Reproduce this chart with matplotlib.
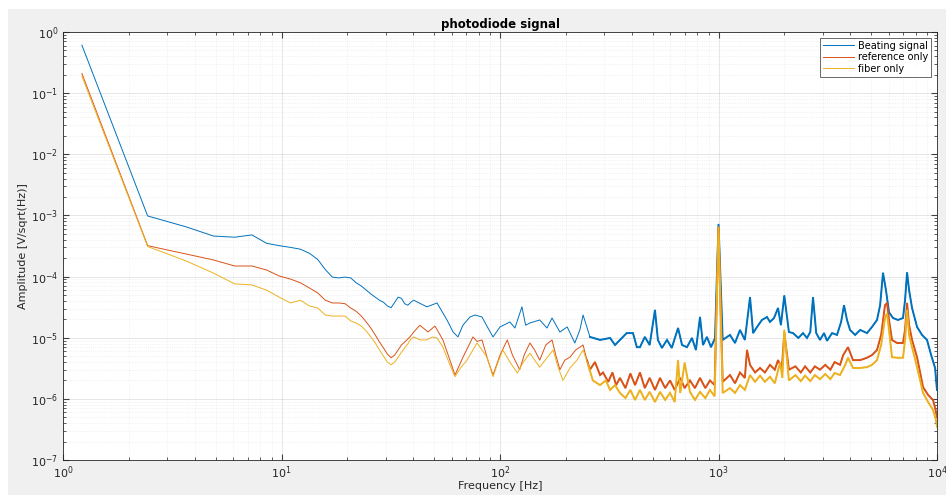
import matplotlib.pyplot as plt
from matplotlib.patches import Rectangle
import numpy as np

# photodiode amplitude spectra, three measurements
beat_freq = [1.22, 2.44, 3.66, 4.88, 6.10, 7.32, 8.54, 9.77, 10.99, 12.21, 13.43, 14.65,
             15.87, 17.09, 18.31, 19.53, 20.75, 21.97, 23.19, 24.41, 25.63, 26.86, 28.08,
             29.3, 30.52, 31.74, 32.96, 34.18, 35.4, 36.62, 37.84, 39.06, 40.28,
             46.3, 51.5, 57.2, 61.0, 64.2, 67.7, 72.9, 76.8, 82.7, 88.1, 92.9, 100,
             111, 117, 126, 131, 137, 152, 164, 173, 188, 203, 220, 232, 240, 258, 287,
             319, 336, 354, 380, 406, 423, 437, 460, 484, 512, 528, 551, 581, 611, 653,
             681, 717, 756, 788, 823, 849, 885, 924, 964, 1000, 1045, 1129, 1190, 1254,
             1320, 1394, 1440, 1501, 1580, 1667, 1720, 1795, 1872, 1930, 2000, 2100,
             2193, 2320, 2436, 2541, 2630, 2707, 2800, 2914, 3040, 3138, 3310, 3486,
             3640, 3753, 3873, 3999, 4220, 4450, 4782, 5040, 5314, 5490, 5660, 5840,
             6030, 6290, 6630, 6988, 7140, 7293, 7450, 7687, 8103, 8540, 9000, 9400,
             9800, 9950, 10000]
beat_amp = [0.61, 9.8e-4, 6.5e-4, 4.6e-4, 4.4e-4, 4.8e-4, 3.5e-4, 3.2e-4, 3.0e-4, 2.8e-4,
            2.4e-4, 1.9e-4, 1.3e-4, 9.8e-5, 9.5e-5, 9.8e-5, 9.5e-5, 7.9e-5, 7.0e-5, 6.0e-5,
            5.2e-5, 4.6e-5, 4.1e-5, 3.8e-5, 3.3e-5, 3.1e-5, 3.8e-5, 4.6e-5, 4.4e-5, 3.6e-5,
            3.4e-5, 3.8e-5, 4.1e-5,
            3.2e-5, 3.7e-5, 1.95e-5, 1.24e-5, 1.03e-5, 1.61e-5, 2.18e-5, 2.35e-5, 2.18e-5,
            1.44e-5, 1.03e-5, 1.5e-5, 1.81e-5, 1.44e-5, 3.2e-5, 1.6e-5, 1.74e-5, 1.95e-5,
            1.44e-5, 2.1e-5, 1.24e-5, 1.5e-5, 8.2e-6, 1.34e-5, 2.35e-5, 1.03e-5, 9.2e-6,
            9.9e-6, 7.6e-6, 9.2e-6, 1.19e-5, 1.19e-5, 7.0e-6, 7.0e-6, 1.03e-5, 7.6e-6,
            2.84e-5, 9.2e-6, 6.8e-6, 9.2e-6, 6.8e-6, 1.44e-5, 7.6e-6, 7.0e-6, 9.9e-6,
            6.3e-6, 2.18e-5, 7.6e-6, 1.03e-5, 7.0e-6, 9.9e-6, 7.2e-4, 9.2e-6, 1.11e-5,
            8.2e-6, 1.34e-5, 9.2e-6, 4.6e-5, 1.19e-5, 1.5e-5, 1.95e-5, 2.18e-5, 1.81e-5,
            2.1e-5, 3.06e-5, 1.61e-5, 4.9e-5, 1.24e-5, 1.19e-5, 9.9e-6, 1.19e-5, 9.9e-6,
            1.24e-5, 4.6e-5, 1.19e-5, 9.2e-6, 1.19e-5, 8.9e-6, 1.19e-5, 1.11e-5, 1.81e-5,
            3.4e-5, 1.95e-5, 1.34e-5, 1.11e-5, 1.34e-5, 1.19e-5, 1.5e-5, 1.95e-5, 3.4e-5,
            1.15e-4, 6.0e-5, 2.6e-5, 2.1e-5, 1.95e-5, 2.1e-5, 4.1e-5, 1.17e-4, 6.0e-5,
            3.06e-5, 1.5e-5, 1.11e-5, 9.2e-6, 5.2e-6, 3.2e-6, 1.68e-6, 1.4e-6]

ref_freq = [1.22, 2.44, 3.66, 4.88, 6.10, 7.32, 8.54, 9.77, 10.99, 12.21, 13.43, 14.65,
            15.87, 17.09, 18.31, 19.53, 20.75, 21.97, 23.19, 24.41, 25.63, 26.86, 28.08,
            29.3, 30.52, 31.74, 32.96, 34.18, 35.4, 36.62, 37.84, 39.06, 40.28,
            43.0, 46.8, 50.4, 54.8, 59, 62.2, 67.7, 75.2, 78.5, 82.7, 88, 92.9, 100, 108,
            114, 123, 129, 137, 144, 152, 162, 173, 180, 188, 198, 209, 222, 240, 250,
            258, 272, 287, 296, 313, 327, 340, 354, 375, 395, 415, 437, 460, 484, 512,
            540, 570, 600, 630, 668, 700, 740, 780, 823, 870, 914, 960, 1000, 1045,
            1129, 1190, 1254, 1320, 1350, 1394, 1470, 1549, 1630, 1720, 1810, 1872,
            1950, 2000, 2100, 2250, 2380, 2490, 2630, 2760, 2914, 3080, 3250, 3400,
            3600, 3720, 3914, 4127, 4450, 4782, 5040, 5314, 5550, 5780, 5906, 6030,
            6223, 6560, 6988, 7140, 7293, 7450, 7687, 8103, 8632, 9100, 9587, 9850,
            10000]
ref_amp = [0.21, 3.2e-4, 2.34e-4, 1.87e-4, 1.49e-4, 1.49e-4, 1.28e-4, 1.02e-4, 9.1e-5,
           7.9e-5, 6.5e-5, 5.4e-5, 4.1e-5, 3.7e-5, 3.7e-5, 3.6e-5, 3.06e-5, 2.7e-5,
           2.26e-5, 1.81e-5, 1.44e-5, 1.11e-5, 8.5e-6, 6.8e-6, 5.4e-6, 4.7e-6, 5.2e-6,
           6.3e-6, 7.6e-6, 8.5e-6, 9.5e-6, 1.07e-5, 1.24e-5,
           1.6e-5, 1.24e-5, 1.55e-5, 9.2e-6, 4.3e-6, 2.45e-6, 4.8e-6, 1.03e-5, 8.7e-6,
           9.2e-6, 4.3e-6, 2.45e-6, 5.2e-6, 9.2e-6, 5.2e-6, 3.0e-6, 5.2e-6, 8.2e-6,
           6.3e-6, 4.3e-6, 7.6e-6, 9.2e-6, 5.2e-6, 3.0e-6, 4.3e-6, 4.8e-6, 6.3e-6,
           7.6e-6, 4.3e-6, 3.0e-6, 4.0e-6, 2.45e-6, 2.7e-6, 1.9e-6, 2.7e-6, 1.68e-6,
           2.2e-6, 1.5e-6, 2.6e-6, 1.68e-6, 2.7e-6, 1.5e-6, 2.2e-6, 1.4e-6, 2.2e-6,
           1.5e-6, 2.0e-6, 1.4e-6, 2.2e-6, 1.5e-6, 2.0e-6, 1.5e-6, 2.2e-6, 1.5e-6,
           2.0e-6, 1.68e-6, 6.5e-4, 1.9e-6, 2.45e-6, 1.8e-6, 2.7e-6, 2.2e-6, 6.3e-6,
           3.6e-6, 2.7e-6, 3.2e-6, 2.7e-6, 3.6e-6, 3.0e-6, 4.3e-6, 3.2e-6, 1.2e-5,
           3.0e-6, 3.4e-6, 2.7e-6, 3.4e-6, 2.7e-6, 3.4e-6, 3.0e-6, 3.6e-6, 3.0e-6,
           4.0e-6, 3.6e-6, 5.2e-6, 7.0e-6, 4.3e-6, 4.3e-6, 4.7e-6, 5.2e-6, 6.3e-6,
           1.11e-5, 3.4e-5, 3.7e-5, 1.95e-5, 9.2e-6, 8.2e-6, 8.2e-6, 1.34e-5, 3.7e-5,
           1.61e-5, 9.2e-6, 4.8e-6, 1.56e-6, 1.16e-6, 9.6e-7, 6.6e-7, 5.0e-7]

fiber_freq = [1.22, 2.44, 3.66, 4.88, 6.10, 7.32, 8.54, 9.77, 10.99, 12.21, 13.43, 14.65,
              15.87, 17.09, 18.31, 19.53, 20.75, 21.97, 23.19, 24.41, 25.63, 26.86, 28.08,
              29.3, 30.52, 31.74, 32.96, 34.18, 35.4, 36.62, 37.84, 39.06, 40.28,
              43.0, 46.3, 49, 51.5, 54.8, 59, 62.2, 66, 70.6, 78.5, 82.7, 87.2, 92.9, 98,
              103, 111, 120, 128, 137, 144, 152, 164, 175, 183, 194, 209, 225, 240, 253,
              266, 287, 305, 319, 336, 354, 375, 395, 415, 437, 460, 484, 512, 540, 570,
              600, 630, 653, 668, 700, 740, 780, 823, 870, 914, 960, 1000, 1045, 1129,
              1190, 1254, 1320, 1394, 1470, 1549, 1630, 1720, 1810, 1912, 1960, 2000,
              2100, 2250, 2380, 2490, 2630, 2760, 2914, 3080, 3250, 3400, 3600, 3800,
              3914, 4127, 4450, 4782, 5040, 5314, 5550, 5780, 5906, 6030, 6223, 6560,
              6988, 7140, 7293, 7450, 7687, 8103, 8632, 9100, 9587, 9850, 10000]
fiber_amp = [0.19, 3.1e-4, 1.8e-4, 1.14e-4, 7.6e-5, 7.3e-5, 6.0e-5, 4.6e-5, 3.7e-5,
             4.1e-5, 3.3e-5, 3.06e-5, 2.35e-5, 2.26e-5, 2.26e-5, 2.26e-5, 1.88e-5,
             1.74e-5, 1.55e-5, 1.29e-5, 1.03e-5, 8.2e-6, 6.3e-6, 5.0e-6, 4.0e-6, 3.6e-6,
             4.0e-6, 4.8e-6, 5.8e-6, 6.8e-6, 7.9e-6, 9.5e-6, 1.03e-5,
             9.2e-6, 9.2e-6, 1.03e-5, 9.9e-6, 7.0e-6, 3.6e-6, 2.3e-6, 3.2e-6, 4.3e-6,
             8.2e-6, 6.3e-6, 4.8e-6, 2.3e-6, 4.0e-6, 6.3e-6, 4.0e-6, 2.65e-6, 4.0e-6,
             5.6e-6, 4.3e-6, 3.3e-6, 4.7e-6, 6.3e-6, 3.6e-6, 2.0e-6, 3.2e-6, 4.3e-6,
             6.3e-6, 3.6e-6, 2.0e-6, 1.68e-6, 2.0e-6, 1.4e-6, 1.68e-6, 1.25e-6, 1.03e-6,
             1.4e-6, 9.6e-7, 1.4e-6, 9.6e-7, 1.3e-6, 8.9e-7, 1.3e-6, 9.6e-7, 1.25e-6,
             8.9e-7, 4.3e-6, 1.25e-6, 3.9e-6, 1.3e-6, 9.6e-7, 1.3e-6, 1.03e-6, 1.4e-6,
             1.1e-6, 6.5e-4, 1.25e-6, 1.5e-6, 1.25e-6, 1.68e-6, 1.4e-6, 2.45e-6, 1.9e-6,
             2.4e-6, 1.9e-6, 2.3e-6, 1.8e-6, 3.9e-6, 2.2e-6, 1.34e-5, 2.0e-6, 2.45e-6,
             1.95e-6, 2.4e-6, 1.95e-6, 2.45e-6, 2.1e-6, 2.55e-6, 2.1e-6, 2.65e-6,
             2.45e-6, 3.6e-6, 4.7e-6, 3.2e-6, 3.2e-6, 3.3e-6, 3.6e-6, 4.3e-6, 7.6e-6,
             2.1e-5, 2.5e-5, 1.34e-5, 4.8e-6, 4.7e-6, 4.7e-6, 9.2e-6, 2.84e-5, 1.11e-5,
             7.0e-6, 3.3e-6, 1.25e-6, 8.9e-7, 6.6e-7, 4.8e-7, 3.5e-7]

series = [
    ('Beating signal', beat_freq, beat_amp, '#0072BD'),
    ('reference only', ref_freq, ref_amp, '#D95319'),
    ('fiber only', fiber_freq, fiber_amp, '#EDB120'),
]

plt.rcParams['font.family'] = 'DejaVu Sans'
fig = plt.figure(figsize=(9.46, 4.95), dpi=100, facecolor='white')
# grey window background, with a thin white margin top and left
fig.patches.append(Rectangle((8 / 946, 0), 1, 1 - 9 / 495, transform=fig.transFigure,
                             facecolor='#f0f0f0', edgecolor='none', zorder=-10))
ax = fig.add_axes([0.0666, 0.0707, 0.9239, 0.8647])

for label, f, a, c in series:
    f = np.asarray(f)
    a = np.asarray(a)
    ax.loglog(f, a, color=c, lw=0.7, label=label)
    # the noisy high-frequency part reads as a thicker band
    hi = f >= 250
    ax.loglog(f[hi], a[hi], color=c, lw=1.4, solid_joinstyle='miter')

ax.set_xlim(1, 1e4)
ax.set_ylim(1e-7, 1)

# matlab-like grid and box
ax.grid(True, which='major', color='#262626', alpha=0.13, lw=0.6)
ax.grid(True, which='minor', color='#262626', alpha=0.10, lw=0.5, ls=':')
ax.tick_params(which='both', direction='in', top=True, right=True,
               colors='#404040', labelsize=8, labelcolor='#262626')
ax.tick_params(which='major', length=4)
ax.tick_params(which='minor', length=2)
for s in ax.spines.values():
    s.set_color('#262626')
    s.set_linewidth(0.6)

ax.set_title('photodiode signal', fontsize=8.5, fontweight='bold', pad=3)
ax.set_xlabel('Frequency [Hz]', fontsize=8, color='#262626', labelpad=0)
ax.set_ylabel('Amplitude [V/sqrt(Hz)]', fontsize=8, color='#262626', labelpad=2)

leg = ax.legend(loc='upper right', fontsize=7, frameon=True, fancybox=False,
                borderaxespad=0.6, handlelength=3.2, handletextpad=0.4,
                labelspacing=0.15, borderpad=0.3)
leg.get_frame().set_edgecolor('#262626')
leg.get_frame().set_linewidth(0.6)

fig.savefig('out.png', dpi=100)
